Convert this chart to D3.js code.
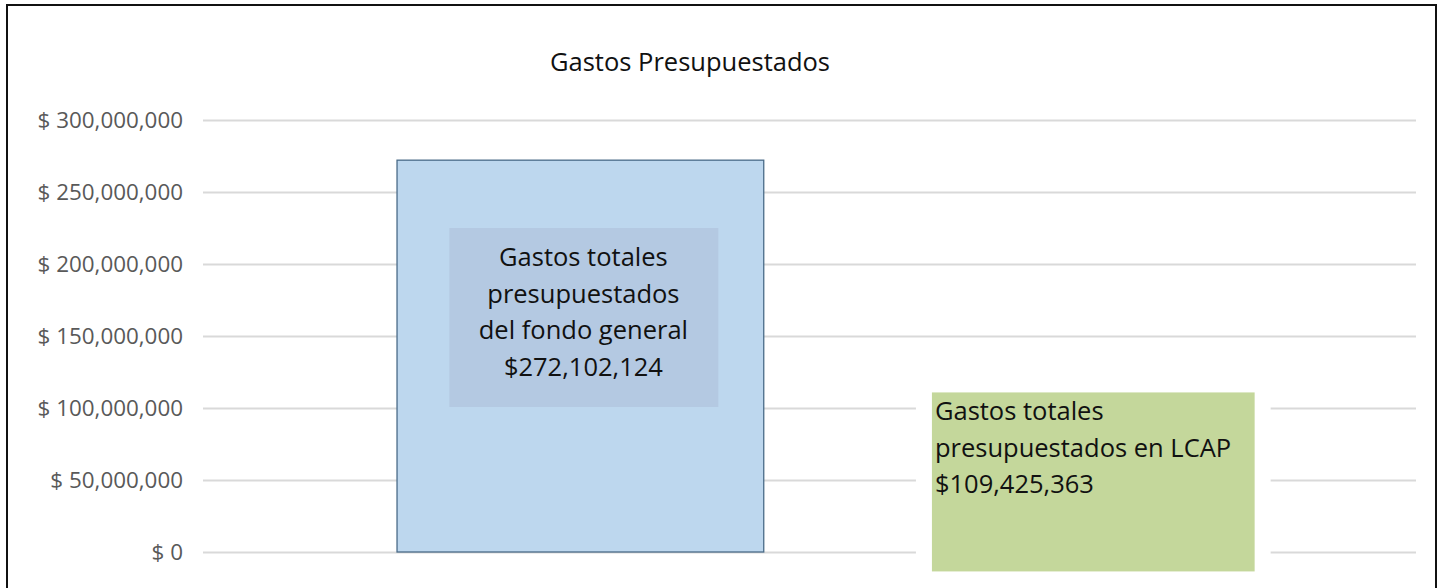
<!DOCTYPE html>
<html lang="es">
<head>
    <meta charset="UTF-8">
    <title>Gastos Presupuestados</title>
    <script src="https://d3js.org/d3.v7.min.js"></script>
    <style>
        * {
            margin: 0;
            padding: 0;
            box-sizing: border-box;
        }

        html, body {
            width: 1442px;
            height: 588px;
            overflow: clip;
            background: #fff;
        }

        svg {
            display: block;
        }
    </style>
</head>
<body>
<svg id="chart" width="1442" height="588"></svg>
<script>
    const title = "Gastos Presupuestados"
    const categories = [ "Fondo general", "LCAP" ]
    const values = [ 272102124, 109425363 ]
    const labels = [
        [ "Gastos totales", "presupuestados", "del fondo general", "$272,102,124" ],
        [ "Gastos totales", "presupuestados en LCAP", "$109,425,363" ],
    ]
    const yTicks = [ 0, 50000000, 100000000, 150000000, 200000000, 250000000, 300000000 ]

    const $svg = d3.select("#chart")

    // outer frame (bottom edge falls off the picture)
    $svg.append("path")
        .attr("d", "M7,590 V5 H1436 V590")
        .attr("fill", "none")
        .attr("stroke", "#111")
        .attr("stroke-width", 2)

    const y = d3.scaleLinear()
        .domain([ 0, 300000000 ])
        .range([ 552, 120 ])

    const x = d3.scaleBand()
        .domain(categories)
        .range([ 203, 1416 ])
        .paddingInner(0.285)
        .paddingOuter(0.325)
        .align(0.582)

    const fmt = v => "$ " + d3.format(",")(v)

    // grid + tick labels
    const $axis = $svg.append("g")
        .attr("transform", "translate(203,0)")
        .call(d3.axisLeft(y).tickValues(yTicks).tickFormat(fmt).tickSize(-1213).tickPadding(20))
    $axis.select(".domain").remove()
    $axis.selectAll(".tick line")
        .attr("stroke", "#d9d9d9")
        .attr("stroke-width", 2)
    $axis.selectAll(".tick text")
        .attr("fill", "#595959")
        .attr("font-family", "'Open Sans', sans-serif")
        .attr("font-size", 22.4)

    $svg.append("text")
        .attr("x", 690)
        .attr("y", 71)
        .attr("text-anchor", "middle")
        .attr("font-family", "'Open Sans', sans-serif")
        .attr("font-size", 25.5)
        .attr("fill", "#111")
        .text(title)

    // first bar
    const c0 = categories[0]
    $svg.append("rect")
        .attr("x", x(c0))
        .attr("y", y(values[0]))
        .attr("width", x.bandwidth())
        .attr("height", y(0) - y(values[0]))
        .attr("fill", "#bdd7ee")
        .attr("stroke", "#4a6b88")
        .attr("stroke-width", 1.3)

    const cx0 = x(c0) + x.bandwidth() / 2
    $svg.append("rect")
        .attr("x", cx0 - 131)
        .attr("y", 228)
        .attr("width", 269)
        .attr("height", 179)
        .attr("fill", "#b4c9e2")
    $svg.append("text")
        .attr("text-anchor", "middle")
        .attr("font-family", "'Open Sans', sans-serif")
        .attr("font-size", 25.5)
        .attr("fill", "#111")
        .selectAll("tspan")
        .data(labels[0])
        .join("tspan")
        .attr("x", cx0 + 3)
        .attr("y", (_, i) => 266 + i * 36.5)
        .text(d => d)

    // second bar sits behind a text box
    const c1 = categories[1]
    const bx = x(c1) + 6
    const bw = x.bandwidth() - 12
    $svg.append("rect")
        .attr("x", bx)
        .attr("y", y(values[1]))
        .attr("width", bw)
        .attr("height", y(0) - y(values[1]) + 2)
        .attr("fill", "#fff")
    $svg.append("rect")
        .attr("x", bx + 16)
        .attr("y", y(values[1]) - 2)
        .attr("width", bw - 32)
        .attr("height", 179)
        .attr("fill", "#c4d79b")
    $svg.append("text")
        .attr("font-family", "'Open Sans', sans-serif")
        .attr("font-size", 25.5)
        .attr("fill", "#111")
        .selectAll("tspan")
        .data(labels[1])
        .join("tspan")
        .attr("x", bx + 19)
        .attr("y", (_, i) => 420 + i * 36.5)
        .text(d => d)
</script>
</body>
</html>
